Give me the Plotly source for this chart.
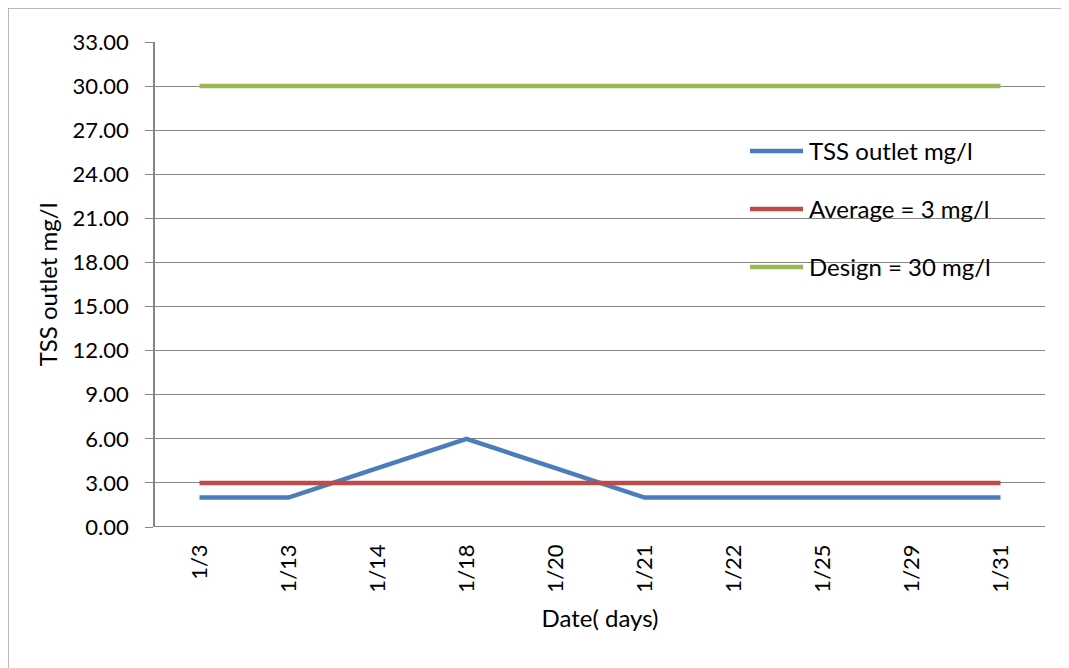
import plotly.graph_objects as go

dates = ["1/3", "1/13", "1/14", "1/18", "1/20", "1/21", "1/22", "1/25", "1/29", "1/31"]
tss_outlet = [2, 2, 4, 6, 4, 2, 2, 2, 2, 2]
average = [3] * 10
design = [30] * 10
y_ticks = [0, 3, 6, 9, 12, 15, 18, 21, 24, 27, 30, 33]
series_names = ["TSS outlet mg/l", "Average = 3 mg/l", "Design = 30 mg/l"]
series_colors = ["#4a7ebb", "#be4b48", "#98b954"]

FONT = "Lato, Open Sans, Liberation Sans, sans-serif"
FS_TICK = 22
FS_TEXT = 24

fig = go.Figure()
for name, vals, col in zip(series_names, [tss_outlet, average, design], series_colors):
    fig.add_trace(go.Scatter(
        x=dates, y=vals, name=name, mode="lines",
        line=dict(color=col, width=4.5), showlegend=False,
    ))

# legend drawn as line samples + text (Excel-style long samples)
leg_y = [0.7753, 0.6557, 0.5361]
for name, col, yy in zip(series_names, series_colors, leg_y):
    fig.add_shape(type="line", xref="paper", yref="paper", x0=0.6685, x1=0.7281, y0=yy, y1=yy,
                  line=dict(color=col, width=4.5))
    fig.add_annotation(xref="paper", yref="paper", x=0.7326, y=yy, text=name, showarrow=False,
                       xanchor="left", yanchor="middle",
                       font=dict(size=FS_TEXT, family=FONT, color="#000"))

fig.update_layout(
    width=1061, height=660,
    margin=dict(l=147, r=24, t=34, b=141),
    paper_bgcolor="white", plot_bgcolor="white",
    font=dict(family=FONT, size=FS_TICK, color="#000000"),
    showlegend=False,
    xaxis=dict(
        type="category", showgrid=False, showline=False, zeroline=False,
        ticks="", tickangle=-90, tickfont=dict(size=FS_TICK, family=FONT),
        range=[-0.5, 9.5], ticklabelstandoff=12,
        title=dict(text="Date( days)", font=dict(size=FS_TEXT, family=FONT), standoff=18),
    ),
    yaxis=dict(
        range=[0, 33], tickvals=y_ticks, ticktext=[f"{v:.2f}" for v in y_ticks],
        showgrid=True, gridcolor="#868686", gridwidth=1,
        showline=True, linecolor="#868686", linewidth=1.5,
        ticks="outside", ticklen=8, tickcolor="#868686",
        zeroline=False, tickfont=dict(size=FS_TICK, family=FONT), ticklabelstandoff=12,
        title=dict(text="TSS outlet mg/l", font=dict(size=FS_TEXT, family=FONT), standoff=8),
    ),
)
# bottom category axis line
fig.add_shape(type="line", xref="paper", yref="y", x0=0, x1=1, y0=0, y1=0,
              line=dict(color="#868686", width=2), layer="below")
# outer chart border (left and top)
fig.add_shape(type="line", xref="paper", yref="paper", x0=-0.1652, x1=-0.1652, y0=1.07, y1=-0.3,
              line=dict(color="#a0a0a0", width=1.5))
fig.add_shape(type="line", xref="paper", yref="paper", x0=-0.1652, x1=1.03, y0=1.07, y1=1.07,
              line=dict(color="#a0a0a0", width=1.5))

fig.write_html("out.html")
